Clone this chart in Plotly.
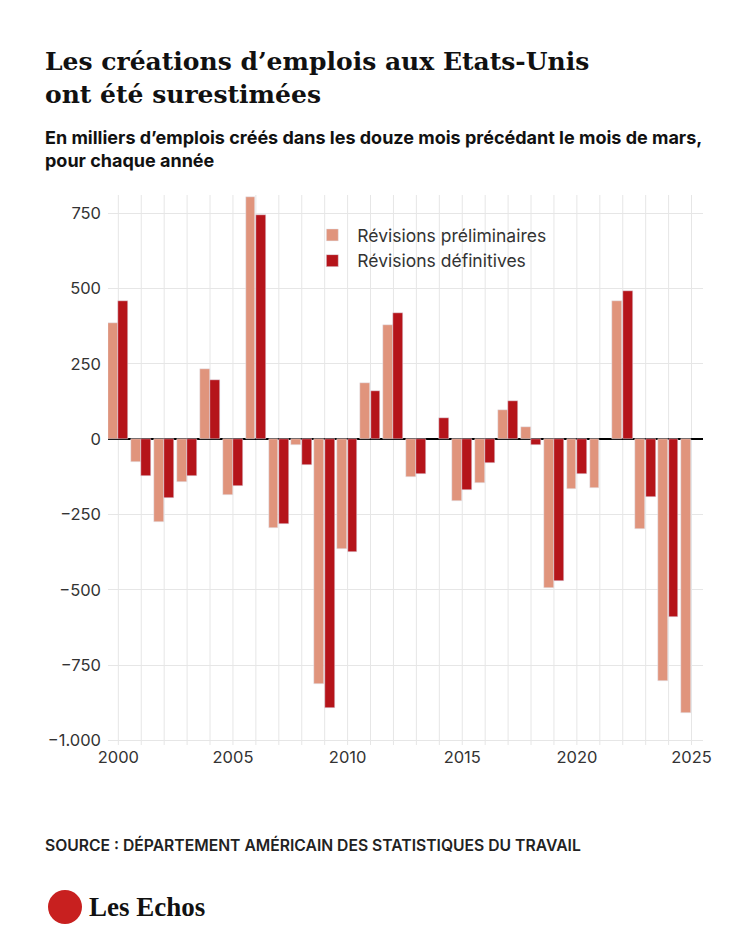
import plotly.graph_objects as go

years = list(range(2000, 2026))
prelim = [385, -76, -276, -141, 234, -187, 803, -296, -20, -812, -365, 187, 378, -125, None, -204, -145, 95, 39, -493, -164, -161, 457, -299, -803, -908]
final = [457, -122, -197, -122, 197, -155, 743, -283, -86, -891, -375, 158, 418, -115, 69, -168, -79, 128, -20, -470, -115, None, 493, -191, -589, None]
tickvals = [750, 500, 250, 0, -250, -500, -750, -1000]
ticktext = ["750", "500", "250", "0", "\u2212250", "\u2212500", "\u2212750", "\u22121.000"]

fig = go.Figure()
fig.add_bar(x=years, y=prelim, name="Révisions préliminaires", marker_color="#e0947c",
            offset=-0.45, width=0.43)
fig.add_bar(x=years, y=final, name="Révisions définitives", marker_color="#b5141a",
            offset=0.0, width=0.43)

L, R, T, B = 108, 47, 195, 193
fig.update_layout(
    width=750, height=938, margin=dict(l=L, r=R, t=T, b=B, autoexpand=False),
    paper_bgcolor="white", plot_bgcolor="white",
    font=dict(family="Inter, Roboto, sans-serif", color="#222"),
    showlegend=True,
    legend=dict(x=0.335, y=0.96, xanchor="left", yanchor="top", font=dict(size=17.5, color="#333"),
                bgcolor="rgba(255,255,255,0)", tracegroupgap=10, itemwidth=40),
    bargap=0,
)
fig.update_xaxes(range=[1999.55, 2025.5], tickvals=[2000, 2005, 2010, 2015, 2020, 2025],
                 showgrid=False, ticks="", tickfont=dict(size=16.5, color="#333"), zeroline=False,
                 automargin=False)
fig.update_yaxes(range=[-1015, 810], tickvals=tickvals, ticktext=ticktext, showgrid=True,
                 gridcolor="#e6e6e6", zeroline=True, zerolinecolor="black", zerolinewidth=1.5,
                 tickfont=dict(size=16.5, color="#333"), ticks="", ticklabelstandoff=6,
                 automargin=False)
for yv in years:
    fig.add_shape(type="line", x0=yv, x1=yv, y0=0, y1=1, yref="paper", xref="x",
                  line=dict(color="#e6e6e6", width=1), layer="below")

W, H = 750 - L - R, 938 - T - B
def px(x, y):
    return ((x - L) / W, 1 - (y - T) / H)
def ptxt(x, y, t, size, weight="normal", fam="Inter, Roboto, sans-serif", color="#111"):
    X, Y = px(x, y)
    fig.add_annotation(x=X, y=Y, xref="paper", yref="paper", xanchor="left", yanchor="top",
                       text=t, showarrow=False, align="left", borderpad=0,
                       font=dict(size=size, family=fam, color=color, weight=weight))
ptxt(44, 46, "Les créations d\u2019emplois aux Etats-Unis<br>ont été surestimées", 25, "bold",
     "DejaVu Serif, Georgia, serif")
ptxt(44, 126, "En milliers d\u2019emplois créés dans les douze mois précédant le mois de mars,<br>pour chaque année",
     18, "bold")
ptxt(44, 834, "SOURCE : DÉPARTEMENT AMÉRICAIN DES STATISTIQUES DU TRAVAIL", 15.7, 600, color="#222")
X0, Y0 = px(48, 890); X1, Y1 = px(82, 924)
fig.add_shape(type="circle", xref="paper", yref="paper", x0=X0, y0=Y1, x1=X1, y1=Y0,
              fillcolor="#c8201f", line=dict(width=0))
ptxt(88, 891, "<b>Les Echos</b>", 27, "bold", "Liberation Serif, serif")

fig.write_html("out.html", post_script="document.body.style.margin='0';",
               config={"displayModeBar": False})
